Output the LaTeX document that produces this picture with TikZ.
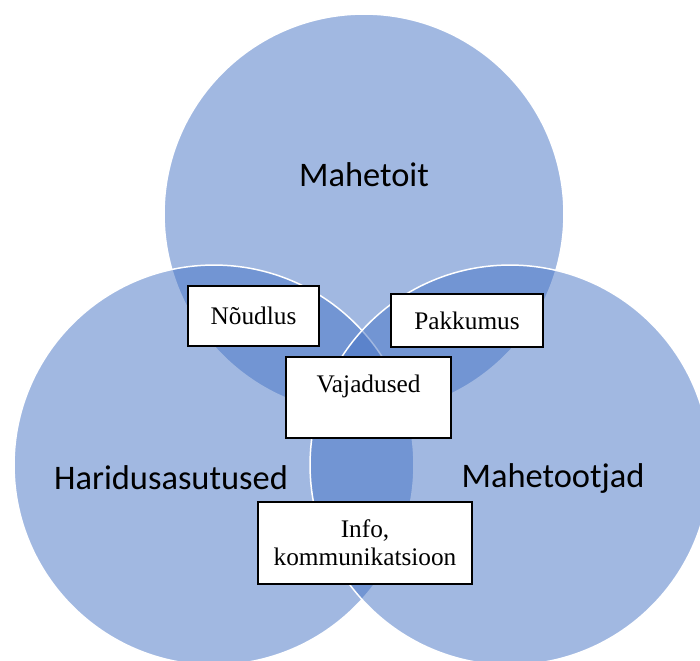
\documentclass[tikz,border=0pt]{standalone}
\usepackage{fontspec}
\setmainfont{Liberation Serif}
\newfontfamily\calibri{Carlito}
\definecolor{vennblue}{HTML}{4472C4}

\tikzset{
  venn/.style={circle, minimum size=8cm, inner sep=0, fill=vennblue,
    fill opacity=0.5, draw=white, line width=0.85pt},
  bigword/.style={font=\calibri\fontsize{19.6}{23}\selectfont},
  tag/.style={draw=black, line width=0.6pt, fill=white, align=center,
    inner sep=0, font=\fontsize{14.4}{15.9}\selectfont}
}

\begin{document}
\begin{tikzpicture}[x=0.02cm, y=-0.02cm]

  \useasboundingbox (0,0) rectangle (700,660);
  \clip (0,0) rectangle (700,660);

  % the three sets
  \foreach \name/\x/\y in {food/364/214, school/214/465, farm/510/465}
  {
    \node[venn] (\name) at ({\x}, {\y}) {};
  }

  \node[bigword] (foodtxt) at ({364}, {175}) {Mahetoit};
  \node[bigword] (schooltxt) at ({171}, {478}) {Haridusasutused};
  \node[bigword] (farmtxt) at ({553}, {478}) {Mahetootjad};

  % the overlaps
  \node[tag, minimum width=131*0.02cm, minimum height=60*0.02cm]
    (demand) at ({253.5}, {316}) {N\~oudlus};
  \node[tag, minimum width=152*0.02cm, minimum height=53*0.02cm]
    (supply) at ({467}, {320.5}) {Pakkumus};
  \node[tag, minimum width=165*0.02cm, minimum height=81*0.02cm]
    (needs) at ({368.5}, {397.5}) {Vajadused\\~};
  \node[tag, minimum width=214*0.02cm, minimum height=82*0.02cm]
    (info) at ({365}, {543}) {Info,\\kommunikatsioon};

\end{tikzpicture}
\end{document}
